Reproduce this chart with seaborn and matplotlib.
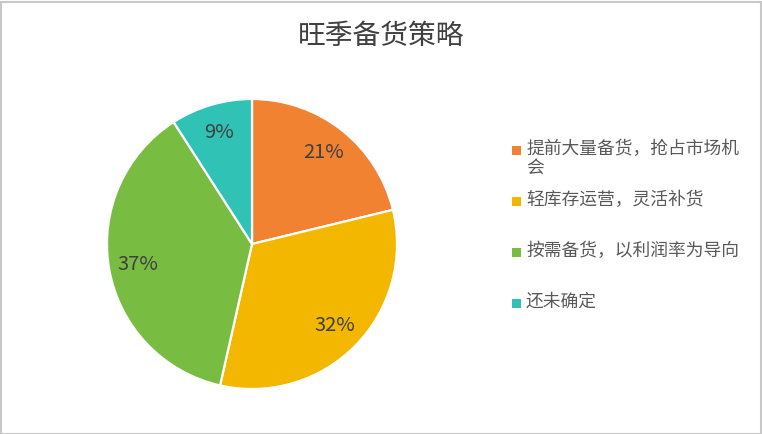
import matplotlib
matplotlib.use("Agg")
import matplotlib.pyplot as plt
import seaborn as sns
from matplotlib.patches import Rectangle

# data
title = "旺季备货策略"
categories = ["提前大量备货，抢占市场机\n会", "轻库存运营，灵活补货", "按需备货，以利润率为导向", "还未确定"]
shares = [21, 32, 37, 9]
colors = ["#F08231", "#F4B700", "#78BD42", "#30C2B5"]

sns.set_theme(style="white")
plt.rcParams['font.family'] = ['Noto Sans CJK SC', 'DejaVu Sans']

W, H = 762, 434
fig = plt.figure(figsize=(W / 100, H / 100), dpi=100)
fig.patch.set_facecolor("white")

cx, cy, r = 252, 244, 145
ax = fig.add_axes([(cx - r) / W, (H - cy - r) / H, 2 * r / W, 2 * r / H])
wedges, texts, autotexts = ax.pie(
    shares, colors=sns.color_palette(colors), startangle=90, counterclock=False,
    autopct=lambda p: f"{p * sum(shares) / 100:.0f}%", pctdistance=0.8,
    wedgeprops=dict(edgecolor="white", linewidth=1.6),
    textprops=dict(color="#404040", fontsize=14.5))
ax.set_xlim(-1, 1)
ax.set_ylim(-1, 1)
ax.set_aspect("equal")
ax.axis("off")

fig.text(381 / W, 1 - 36 / H, title, ha="center", va="center", fontsize=20, color="#404040")

# legend, top-aligned in equal slots
for i, (lab, col) in enumerate(zip(categories, colors)):
    ytop = 143 + i * 51
    fig.patches.append(Rectangle((512 / W, 1 - (ytop + 12) / H), 9 / W, 9 / H,
                                 transform=fig.transFigure, facecolor=col, edgecolor="none"))
    fig.text(526 / W, 1 - (ytop - 3) / H, lab, ha="left", va="top", fontsize=12.8,
             color="#595959", linespacing=1.05)

fig.patches.append(Rectangle((0.5 / W, 0.5 / H), 1 - 2 / W, 1 - 2 / H, transform=fig.transFigure,
                             facecolor="none", edgecolor="#C8C8C8", linewidth=1.5))

fig.savefig("out.png", dpi=100)
